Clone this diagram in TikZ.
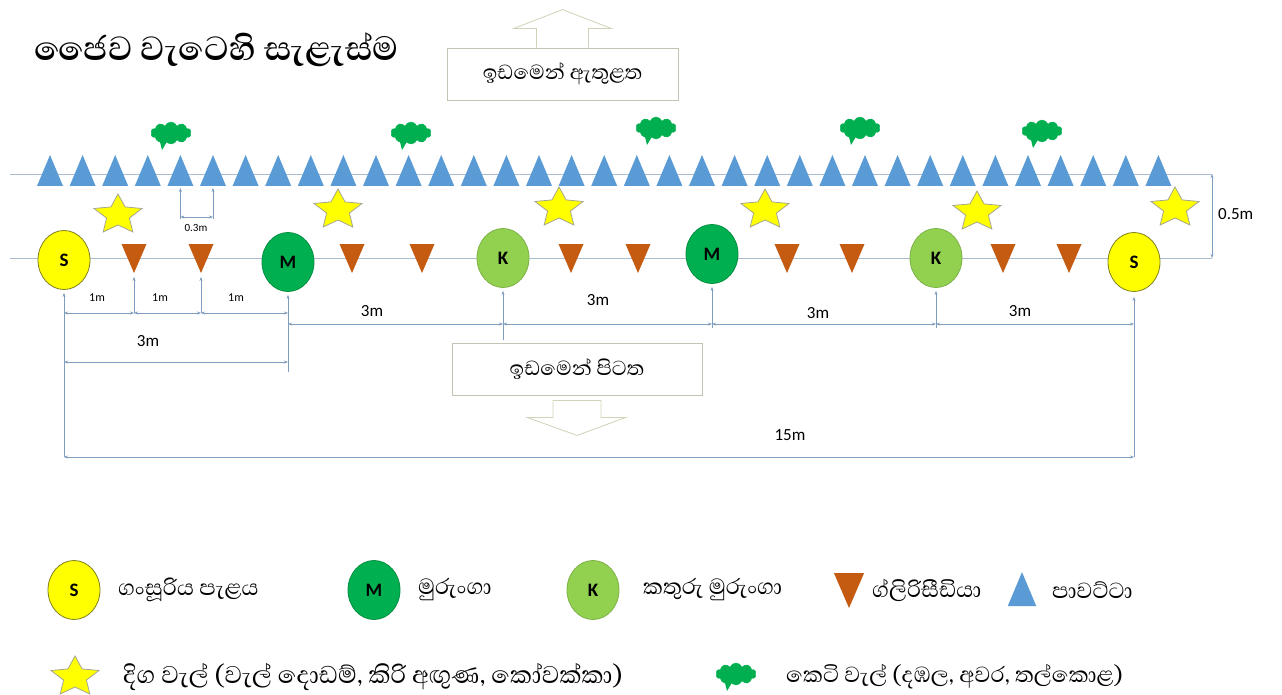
\documentclass[tikz,border=0pt]{standalone}
\usepackage{fontspec}
\setmainfont{Carlito}
\newfontfamily\sinhalafont[Script=Sinhala]{Abhaya Libre}
\usetikzlibrary{shapes.geometric,shapes.symbols,arrows.meta,calc}
\definecolor{pblue}{HTML}{5B9BD5}
\definecolor{gbrown}{HTML}{C55A11}
\definecolor{syellow}{HTML}{FFFF00}
\definecolor{soutline}{HTML}{7F7F20}
\definecolor{mgreen}{HTML}{00B050}
\definecolor{kgreen}{HTML}{92D050}
\definecolor{rowc}{HTML}{A9BCD0}
\definecolor{dimc}{HTML}{7F9DBF}
\definecolor{boxc}{HTML}{C4C4B4}
\definecolor{arrc}{HTML}{CCD5B8}
\definecolor{stargray}{HTML}{A6A690}
\tikzset{
  plant/.style={ellipse, draw, line width=0.8pt, minimum width=52pt, minimum height=59pt, inner sep=0pt, font=\fontsize{19}{19}\selectfont\bfseries},
  splant/.style={plant, fill=syellow, draw=soutline},
  mplant/.style={plant, fill=mgreen, draw=mgreen!80!black},
  kplant/.style={plant, fill=kgreen, draw=kgreen!85!black},
  pawa/.pic={\fill[pblue] (-13,12) -- (0,-19) -- (13,12) -- cycle; \coordinate (-base) at (0,12);},
  glir/.pic={\fill[gbrown] (-12.5,-14) -- (12.5,-14) -- (0,15) -- cycle; \coordinate (-tip) at (0,15);},
  vstar/.pic={\filldraw[fill=syellow, draw=stargray, line width=0.8pt, xscale=1.2]
     (270:21) -- (306:10) -- (342:21) -- (18:10) -- (54:21) -- (90:10) -- (126:21) -- (162:10) -- (198:21) -- (234:10) -- cycle;},
  vcloud/.style={cloud, cloud puffs=10, cloud puff arc=140, aspect=2, fill=mgreen, draw=mgreen, minimum width=40pt, minimum height=22pt, inner sep=0pt},
  rowline/.style={draw=rowc, line width=0.8pt},
  dim/.style={draw=dimc, line width=0.6pt, {Stealth[length=4pt,width=3pt]}-{Stealth[length=4pt,width=3pt]}},
  ext/.style={draw=dimc, line width=0.6pt, -{Stealth[length=4pt,width=3pt]}},
  dimlab/.style={font=\fontsize{17}{17}\selectfont, inner sep=0pt},
  smalllab/.style={font=\fontsize{12}{12}\selectfont, inner sep=0pt},
  infobox/.style={draw=boxc, line width=0.8pt, minimum width=231pt, minimum height=52pt, inner sep=0pt, font=\sinhalafont\fontsize{26}{26}\selectfont},
  hollow/.style={draw=arrc, line width=0.8pt},
  legtext/.style={anchor=west, inner sep=0pt, font=\sinhalafont\fontsize{28}{28}\selectfont},
}
\begin{document}
\begin{tikzpicture}[x=1pt,y=-1pt]
\path[use as bounding box, fill=white] (0,0) rectangle (1282,695);

% title
\node[anchor=west, inner sep=0pt, font=\sinhalafont\bfseries\fontsize{43}{46}\selectfont] (title) at (34,50) {ජෛව වැටෙහි සැළැස්ම};

% inside box and up arrow
\node[infobox] (inbox) at (562.5,74) {ඉඩමෙන් ඇතුළත};
\draw[hollow] ($(inbox.north)+(-26,0)$) -- ++(0,-19) -- ++(-23,0) -- ++(49,-19) -- ++(49,19) -- ++(-23,0) -- ++(0,19);

% row lines
\coordinate (tEnd) at (1212,174);
\coordinate (bEnd) at (1212,258);
\coordinate (tStart) at (10,174);
\coordinate (bStart) at (10,258);
\draw[rowline] (tStart) -- (tEnd);
\draw[rowline] (bStart) -- (bEnd);

% pawatta row
\foreach \i in {0,...,34} \pic (p\i) at ({50+32.6*\i},174) {pawa};

% gliricidia
\foreach \x [count=\i] in {134,201,352,422,571,638,787,852,1003,1069} \pic (g\i) at (\x,258) {glir};

% long vines (stars)
\foreach \x/\y in {118/215,338/210,559/208,765/210,977/212,1175/208} \pic at (\x,\y) {vstar};

% short vines (clouds)
\foreach \x/\y [count=\i] in {171/133,411/133,656/128,860/128,1042/131} {
  \node[vcloud] (c\i) at (\x,\y) {};
  \fill[mgreen] ($(c\i)+(-12,5)$) -- ($(c\i)+(-9,17)$) -- ($(c\i)+(-3,7)$) -- cycle;
}

% plants
\node[splant] (s1) at (64,260) {S};
\node[mplant] (m1) at (288,262) {M};
\node[kplant] (k1) at (503,258) {K};
\node[mplant] (m2) at (712,254) {M};
\node[kplant] (k2) at (936,258) {K};
\node[splant] (s2) at (1134,262) {S};

% dimension rows
\coordinate (r1) at (0,313);
\coordinate (r2) at (0,324);
\coordinate (r3) at (0,362);
\coordinate (r4) at (0,457);

% extension lines
\draw[ext] (s1 |- r4) -- ([yshift=-3pt]s1.south);
\draw[ext] ([yshift=-40pt]g1-tip) -- ([yshift=-4pt]g1-tip);
\draw[ext] ([yshift=-40pt]g2-tip) -- ([yshift=-4pt]g2-tip);
\draw[ext] ([yshift=-10pt]m1 |- r3) -- ([yshift=-3pt]m1.south);
\draw[ext] ([yshift=-16pt]k1 |- r2) -- ([yshift=-3pt]k1.south);
\draw[ext] ([yshift=-4pt]m2 |- r2) -- ([yshift=-3pt]m2.south);
\draw[ext] ([yshift=-4pt]k2 |- r2) -- ([yshift=-3pt]k2.south);
\draw[ext] (s2 |- r4) -- ([yshift=-5pt]s2.south);

% 1m dims
\draw[dim] (s1 |- r1) -- (g1-tip |- r1);
\draw[dim] (g1-tip |- r1) -- (g2-tip |- r1);
\draw[dim] (g2-tip |- r1) -- (m1 |- r1);
\node[smalllab] (l1a) at (97,298) {1m};
\node[smalllab] (l1b) at (160,298) {1m};
\node[smalllab] (l1c) at (236,298) {1m};

% 3m dims
\draw[dim] (m1 |- r2) -- (k1 |- r2);
\draw[dim] (k1 |- r2) -- (m2 |- r2);
\draw[dim] (m2 |- r2) -- (k2 |- r2);
\draw[dim] (k2 |- r2) -- (s2 |- r2);
\node[dimlab] (l3a) at (372,311) {3m};
\node[dimlab] (l3b) at (598,300) {3m};
\node[dimlab] (l3c) at (818,313) {3m};
\node[dimlab] (l3d) at (1020,311) {3m};
\draw[dim] (s1 |- r3) -- (m1 |- r3);
\node[dimlab] (l3e) at (148,341) {3m};

% 15m
\draw[dim] (s1 |- r4) -- (s2 |- r4);
\node[dimlab] (l15) at (790,435) {15m};

% 0.3m
\draw[ext] ([yshift=-33pt]p4-base) -- ([yshift=-2pt]p4-base);
\draw[ext] ([yshift=-33pt]p5-base) -- ([yshift=-2pt]p5-base);
\draw[dim] ([yshift=-31pt]p4-base) -- ([yshift=-31pt]p5-base);
\node[font=\fontsize{11}{11}\selectfont, inner sep=0pt] (l03) at (196,228) {0.3m};

% 0.5m
\draw[dim] (tEnd) -- (bEnd);
\node[dimlab, anchor=west] (l05) at (1218,214) {0.5m};

% outside box and down arrow
\node[infobox, minimum width=250pt] (outbox) at (577,369) {ඉඩමෙන් පිටත};
\draw[hollow] ($(outbox.south)+(-24,5)$) -- ++(48,0) -- ++(0,17) -- ++(25,0) -- ++(-49,18) -- ++(-50,-18) -- ++(26,0) -- cycle;

% legend row 1
\node[splant] (ls) at (74,590) {S};
\node[legtext] (lst) at (118,590) {ගංසූරිය පැළය};
\node[mplant] (lm) at (374,590) {M};
\node[legtext] (lmt) at (418,590) {මුරුංගා};
\node[kplant] (lk) at (593,590) {K};
\node[legtext] (lkt) at (643,590) {කතුරු මුරුංගා};
\pic[scale=1.2] (lg) at (849,590) {glir};
\node[legtext] (lgt) at (872,590) {ග්ලිරිසීඩියා};
\pic[scale=1.1] (lp) at (1022,593) {pawa};
\node[legtext] (lpt) at (1052,590) {පාවට්ටා};

% legend row 2
\pic at (75,677) {vstar};
\node[legtext, font=\sinhalafont\fontsize{31}{31}\selectfont] (lvt) at (123,677) {දිග වැල් (වැල් දොඩම්, කිරි අඟුණ, කෝවක්කා)};
\node[vcloud] (lc) at (736,674) {};
\fill[mgreen] ($(lc)+(-12,5)$) -- ($(lc)+(-9,17)$) -- ($(lc)+(-3,7)$) -- cycle;
\node[legtext] (lct) at (786,677) {කෙටි වැල් (දඹල, අවර, තල්කොළ)};
\end{tikzpicture}
\end{document}
